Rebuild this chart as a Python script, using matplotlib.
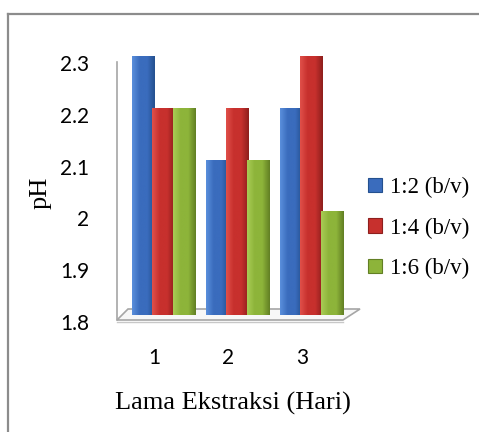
import numpy as np
import matplotlib.pyplot as plt
from matplotlib.patches import Polygon, Patch
from matplotlib.colors import LinearSegmentedColormap
import matplotlib.transforms as mtransforms

# data
days = [1, 2, 3]
ph_12 = [2.3, 2.1, 2.2]
ph_14 = [2.2, 2.2, 2.3]
ph_16 = [2.2, 2.1, 2.0]
series_labels = ['1:2 (b/v)', '1:4 (b/v)', '1:6 (b/v)']
y_ticks = [1.8, 1.9, 2.0, 2.1, 2.2, 2.3]
y_tick_labels = ['1.8', '1.9', '2', '2.1', '2.2', '2.3']

colors = [('#5a8fdc', '#3a6cbd', '#24508f'),
          ('#e0504a', '#c7302d', '#8e1f1d'),
          ('#a9cc55', '#8db43a', '#627f24')]

W, H = 479, 432
fig = plt.figure(figsize=(W / 100, H / 100), dpi=100)


def px(x, y):
    # pixel (from top-left) -> figure fraction
    return x / W, 1 - y / H


# outer frame of the chart
fig.add_artist(plt.Line2D([8 / W, 8 / W], [0, 1 - 14 / H], color='#8c8c8c', lw=1.6))
fig.add_artist(plt.Line2D([8 / W, 1], [1 - 14 / H, 1 - 14 / H], color='#8c8c8c', lw=1.6))

# floor of the pseudo-3d plot
floor = Polygon([px(117, 320), px(343, 320), px(360, 309), px(128, 309)],
                closed=True, transform=fig.transFigure, facecolor='#f7f7f7',
                edgecolor='#a6a6a6', lw=1.2, zorder=0)
fig.add_artist(floor)
fig.add_artist(plt.Line2D([117 / W, 343 / W], [1 - 322 / H, 1 - 322 / H], color='#c8c8c8', lw=1))

left, bottom = px(117, 315)
_, top = px(117, 56)
ax = fig.add_axes([left, bottom, 243 / W, top - bottom])
ax.set_facecolor('none')

x = np.array(days, dtype=float)
offsets = [-0.275, 0.0, 0.275]
width = 0.30
for vals, off, (c_light, c_mid, c_dark), lab in zip([ph_12, ph_14, ph_16], offsets, colors, series_labels):
    bars = ax.bar(x + off, np.array(vals) - 1.8, bottom=1.8, width=width,
                  color=c_mid, edgecolor='none', label=lab, zorder=3)
    cmap = LinearSegmentedColormap.from_list('g', [c_light, c_mid, c_mid, c_dark])
    grad = np.linspace(0, 1, 64).reshape(1, -1)
    for b in bars:
        bx, by = b.get_x(), b.get_y()
        im = ax.imshow(grad, cmap=cmap, aspect='auto', zorder=4,
                       extent=[bx, bx + b.get_width(), by, by + b.get_height()])
        im.set_clip_path(b)

ax.set_xlim(0.372, 3.656)
ax.set_ylim(1.8, 2.3)

for s in ['top', 'right', 'bottom']:
    ax.spines[s].set_visible(False)
ax.spines['left'].set_color('#a6a6a6')
ax.spines['left'].set_linewidth(1.2)
ax.spines['left'].set_bounds(1.79, 2.288)

ax.set_yticks(y_ticks)
ax.set_yticklabels(y_tick_labels)
ax.set_xticks(days)
ax.set_xticklabels([str(d) for d in days])
ax.tick_params(axis='both', length=0, labelsize=15)
ax.tick_params(axis='y', pad=20)
ax.tick_params(axis='x', pad=24)
for lbl in ax.get_yticklabels() + ax.get_xticklabels():
    lbl.set_fontfamily('Lato')

dy = mtransforms.ScaledTranslation(0, -7 / 100, fig.dpi_scale_trans)
for lbl in ax.get_yticklabels():
    lbl.set_transform(lbl.get_transform() + dy)
dx = mtransforms.ScaledTranslation(-9 / 100, 0, fig.dpi_scale_trans)
for lbl in ax.get_xticklabels():
    lbl.set_transform(lbl.get_transform() + dx)

fig.text(*px(41, 193), 'pH', rotation=90, ha='center', va='center',
         family='Liberation Serif', fontsize=19)
fig.text(*px(233, 403), 'Lama Ekstraksi (Hari)', ha='center', va='center',
         family='Liberation Serif', fontsize=19)

handles = [Patch(facecolor=c[1], edgecolor=c[2], lw=0.8) for c in colors]
fig.legend(handles, series_labels, loc='center left', bbox_to_anchor=px(368, 228),
           frameon=False, prop={'family': 'Liberation Serif', 'size': 16.5},
           handlelength=0.6, handleheight=0.6, handletextpad=0.35,
           labelspacing=0.85, borderpad=0, borderaxespad=0)

fig.savefig('out.png', dpi=100)
